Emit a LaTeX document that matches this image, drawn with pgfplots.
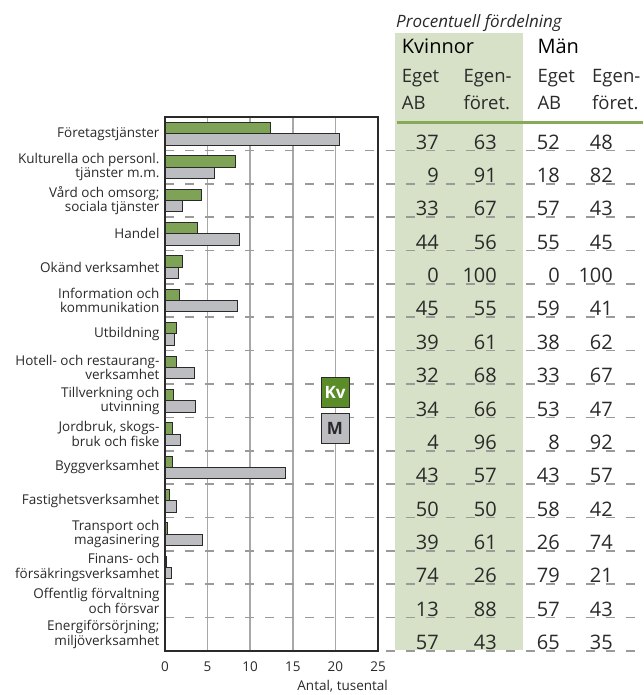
\documentclass[border=0pt]{standalone}
\usepackage{fontspec}
\setmainfont{Open Sans}
\usepackage{pgfplots}
\usepackage{pgfplotstable}
\pgfplotsset{compat=1.18}

\definecolor{kvbar}{HTML}{7EA256}
\definecolor{kvdark}{HTML}{5A8C28}
\definecolor{mbar}{HTML}{BCBDC1}
\definecolor{tabgreen}{HTML}{D6E1C7}
\definecolor{rulegreen}{HTML}{86AA5A}
\definecolor{sepgray}{HTML}{9A9A9A}
\definecolor{gridgray}{HTML}{A8A8A8}
\definecolor{textc}{HTML}{2A2A2A}

\tikzset{sep/.style={sepgray, line width=1.6pt, dash pattern=on 9pt off 11pt}}

\newcommand\lblfont{\fontsize{13.5}{14.3}\selectfont}
\newcommand\numfont{\fontsize{20}{24}\selectfont}
\newcommand\hdfont{\fontsize{18.5}{22}\selectfont}

% bar lengths, thousands; row 15 is the top category
\pgfplotstableread{
row kv m
15 12.4 20.5
14 8.3 5.8
13 4.3 2.1
12 3.75 8.7
11 2.0 1.55
10 1.7 8.5
9 1.35 1.15
8 1.3 3.4
7 1.0 3.55
6 0.85 1.8
5 0.85 14.1
4 0.5 1.35
3 0.25 4.4
2 0.15 0.75
1 0.05 0.05
0 0.05 0.1
}\bartab

% percent table
\pgfplotstableread{
row kvA kvE mA mE
15 37 63 52 48
14 9 91 18 82
13 33 67 57 43
12 44 56 55 45
11 0 100 0 100
10 45 55 59 41
9 39 61 38 62
8 32 68 33 67
7 34 66 53 47
6 4 96 8 92
5 43 57 43 57
4 50 50 58 42
3 39 61 26 74
2 74 26 79 21
1 13 88 57 43
0 57 43 65 35
}\pcttab

\begin{document}
\begin{tikzpicture}
\path[use as bounding box] (0pt,0pt) rectangle (643pt,695pt);
\fill[tabgreen] (395pt,45pt) rectangle (523pt,662pt);

\begin{axis}[at={(165pt,44pt)}, anchor=south west, scale only axis,
    width=213pt, height=534pt,
    xbar, bar width=11.3pt, clip=false,
    xmin=0, xmax=25, ymin=-0.5, ymax=15.5,
    xtick={0,5,...,25}, ytick={0,...,15},
    minor ytick={0.5,1.5,...,14.5},
    xmajorgrids, yminorgrids,
    major grid style={gridgray, line width=1.5pt},
    minor grid style={sep},
    yticklabels={
      {Energiförsörjning;\\miljöverksamhet},
      {Offentlig förvaltning\\och försvar},
      {Finans- och\\försäkringsverksamhet},
      {Transport och\\magasinering},
      {Fastighetsverksamhet},
      {Byggverksamhet},
      {Jordbruk, skogs-\\bruk och fiske},
      {Tillverkning och\\utvinning},
      {Hotell- och restaurang-\\verksamhet},
      {Utbildning},
      {Information och\\kommunikation},
      {Okänd verksamhet},
      {Handel},
      {Vård och omsorg;\\sociala tjänster},
      {Kulturella och personl.\\tjänster m.m.},
      {Företagstjänster}},
    major tick length=0pt, minor tick length=0pt,
    axis line style={textc, line width=1.3pt},
    tick label style={font=\lblfont, text=textc},
    yticklabel style={align=right, xshift=-2pt},
    xticklabel style={yshift=-7pt},
    /pgf/number format/assume math mode=true]
\addplot[fill=kvbar, draw=textc, line width=0.9pt, bar shift=5.65pt] table[x=kv, y=row]{\bartab};
\addplot[fill=mbar, draw=textc, line width=0.9pt, bar shift=-5.65pt] table[x=m, y=row]{\bartab};
\end{axis}

% table numbers
\begin{axis}[at={(0pt,44pt)}, anchor=south west, scale only axis,
    width=643pt, height=534pt,
    xmin=0, xmax=643, ymin=-0.5, ymax=15.5,
    hide axis, clip=false,
    nodes near coords, point meta=explicit symbolic,
    nodes near coords align=center,
    every node near coord/.append style={anchor=base east, font=\numfont, text=textc, inner sep=0pt}]
\addplot[draw=none, mark=none] table[x expr=439, y expr=\thisrow{row}-0.46, meta=kvA]{\pcttab};
\addplot[draw=none, mark=none] table[x expr=497, y expr=\thisrow{row}-0.46, meta=kvE]{\pcttab};
\addplot[draw=none, mark=none] table[x expr=560, y expr=\thisrow{row}-0.46, meta=mA]{\pcttab};
\addplot[draw=none, mark=none] table[x expr=613, y expr=\thisrow{row}-0.46, meta=mE]{\pcttab};
\end{axis}

% row separators through the table
\foreach \k in {1,...,15}
  \draw[sep] (386pt,{44pt+\k*33.375pt}) -- (643pt,{44pt+\k*33.375pt});
\draw[sep] (386pt,44pt) -- (643pt,44pt);

\draw[rulegreen, line width=3pt] (397pt,572.3pt) -- (643pt,572.3pt);

\node[anchor=base west, font=\fontsize{17}{20}\selectfont\itshape, text=textc, inner sep=0pt] at (396pt,667.7pt) {Procentuell fördelning};
\node[anchor=base west, font=\fontsize{20}{24}\selectfont, text=black, inner sep=0pt] at (401.7pt,641pt) {Kvinnor};
\node[anchor=base west, font=\fontsize{20}{24}\selectfont, text=black, inner sep=0pt] at (537.3pt,641pt) {Män};
\node[anchor=base west, font=\hdfont, text=textc, inner sep=0pt] at (401.7pt,612.7pt) {Eget};
\node[anchor=base west, font=\hdfont, text=textc, inner sep=0pt] at (401.7pt,585pt) {AB};
\node[anchor=base west, font=\hdfont, text=textc, inner sep=0pt] at (463.3pt,612.7pt) {Egen-};
\node[anchor=base west, font=\hdfont, text=textc, inner sep=0pt] at (463.3pt,585pt) {föret.};
\node[anchor=base west, font=\hdfont, text=textc, inner sep=0pt] at (537.3pt,612.7pt) {Eget};
\node[anchor=base west, font=\hdfont, text=textc, inner sep=0pt] at (537.3pt,585pt) {AB};
\node[anchor=base west, font=\hdfont, text=textc, inner sep=0pt] at (592pt,612.7pt) {Egen-};
\node[anchor=base west, font=\hdfont, text=textc, inner sep=0pt] at (592pt,585pt) {föret.};

\node[fill=kvdark, draw=textc, line width=1pt, minimum width=28pt, minimum height=30pt, inner sep=0pt, text=white, font=\fontsize{17}{17}\selectfont\bfseries] at (335pt,302.7pt) {Kv};
\node[fill=mbar, draw=textc, line width=1pt, minimum width=28pt, minimum height=30pt, inner sep=0pt, text=textc, font=\fontsize{17}{17}\selectfont\bfseries] at (335pt,266.7pt) {M};

\node[anchor=base east, font=\lblfont, text=textc, inner sep=0pt] at (388pt,5pt) {Antal, tusental};
\end{tikzpicture}
\end{document}
